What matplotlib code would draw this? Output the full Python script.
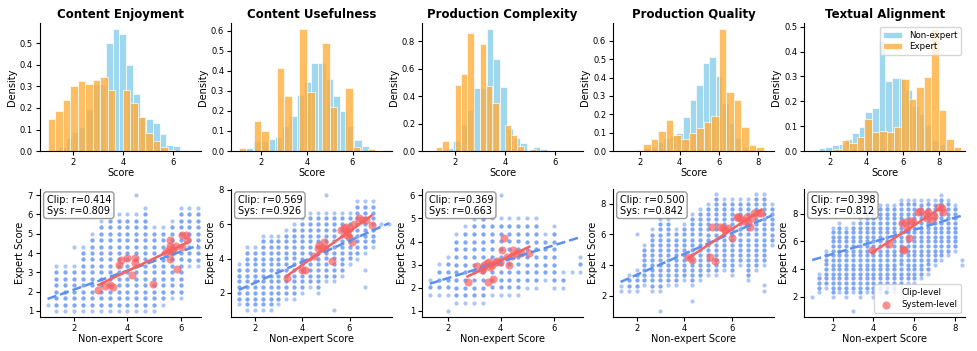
import numpy as np
import matplotlib.pyplot as plt

titles = ['Content Enjoyment', 'Content Usefulness', 'Production Complexity',
          'Production Quality', 'Textual Alignment']

# ---- histogram densities (bins span the given range) ----
ce_nonexp_range = (1.18, 6.55)
ce_nonexp_dens = [0.005, 0.02, 0.06, 0.09, 0.11, 0.195, 0.31, 0.31, 0.50, 0.565,
                  0.545, 0.40, 0.265, 0.16, 0.15, 0.13, 0.08, 0.03, 0.025, 0.005]
ce_exp_range = (1.0, 7.0)
ce_exp_dens = [0.151, 0.186, 0.237, 0.302, 0.324, 0.313, 0.329, 0.343, 0.283, 0.0,
               0.283, 0.225, 0.16, 0.085, 0.045, 0.02, 0.005, 0.0, 0.0, 0.0]

cu_nonexp_range = (1.33, 7.67)
cu_nonexp_dens = [0.013, 0.05, 0.05, 0.062, 0.07, 0.125, 0.174, 0.278, 0.345, 0.438,
                  0.438, 0.36, 0.273, 0.202, 0.126, 0.055, 0.025, 0.005, 0.0, 0.003]
cu_exp_range = (1.0, 7.0)
cu_exp_dens = [0.017, 0.0, 0.152, 0.10, 0.0, 0.413, 0.273, 0.0, 0.607, 0.292,
               0.0, 0.54, 0.22, 0.0, 0.314, 0.022, 0.0, 0.008]

pc_nonexp_range = (1.67, 7.0)
pc_nonexp_dens = [0.025, 0.07, 0.2, 0.3, 0.46, 0.46, 0.889, 0.674, 0.464, 0.16,
                  0.094, 0.062, 0.01, 0.032, 0.012, 0.0, 0.0, 0.0, 0.0, 0.0]
pc_exp_range = (1.0, 6.0)
pc_exp_dens = [0.0, 0.032, 0.07, 0.0, 0.48, 0.563, 0.864, 0.0, 0.778, 0.472,
               0.353, 0.0, 0.188, 0.114, 0.04, 0.0, 0.015, 0.0, 0.0, 0.0]

pq_nonexp_range = (1.5, 8.17)
pq_nonexp_dens = [0.003, 0.005, 0.015, 0.02, 0.05, 0.07, 0.08, 0.098, 0.186, 0.28,
                  0.36, 0.48, 0.51, 0.41, 0.26, 0.155, 0.07, 0.02, 0.005, 0.0]
pq_exp_range = (1.0, 8.67)
pq_exp_dens = [0.0, 0.0, 0.005, 0.039, 0.068, 0.109, 0.168, 0.085, 0.064, 0.098,
               0.123, 0.158, 0.193, 0.663, 0.324, 0.276, 0.131, 0.033, 0.022, 0.0]

ta_nonexp_range = (1.0, 8.33)
ta_nonexp_dens = [0.005, 0.013, 0.018, 0.023, 0.028, 0.05, 0.074, 0.095, 0.158, 0.172,
                  0.442, 0.28, 0.293, 0.293, 0.245, 0.18, 0.15, 0.105, 0.045, 0.03]
ta_exp_range = (1.0, 9.2)
ta_exp_dens = [0.0, 0.0, 0.0, 0.007, 0.043, 0.034, 0.057, 0.13, 0.077, 0.08,
               0.076, 0.095, 0.29, 0.21, 0.257, 0.299, 0.49, 0.166, 0.047, 0.016]

# ---- clip-level scores: per non-expert column, lowest / highest expert score ----
ce_clip_x = [1.33, 1.67, 2.0, 2.33, 2.67, 3.0, 3.33, 3.67, 4.0, 4.33, 4.67, 5.0, 5.33, 5.67, 6.0, 6.33, 6.67]
ce_clip_lo = [1.0, 1.0, 1.0, 1.0, 1.0, 1.0, 1.0, 1.0, 1.0, 1.0, 1.0, 1.0, 1.33, 1.67, 1.67, 3.33, 3.33]
ce_clip_hi = [3.33, 3.33, 3.33, 4.33, 5.0, 5.67, 6.0, 6.0, 6.0, 6.0, 6.33, 5.33, 5.33, 5.67, 6.33, 6.33, 6.33]
ce_clip_extra = [(1.0, 1.33), (2.0, 4.33), (4.33, 7.0)]

cu_clip_x = [1.33, 1.67, 2.0, 2.33, 2.67, 3.0, 3.33, 3.67, 4.0, 4.33, 4.67, 5.0, 5.33, 5.67, 6.0, 6.33, 6.67, 7.0]
cu_clip_lo = [1.33, 1.0, 1.0, 1.0, 1.0, 1.33, 1.67, 1.67, 2.0, 2.33, 2.0, 2.67, 2.67, 3.0, 3.67, 4.0, 4.33, 4.67]
cu_clip_hi = [3.67, 4.67, 4.67, 5.33, 5.33, 5.33, 5.67, 6.0, 6.33, 6.67, 6.67, 6.67, 6.67, 6.67, 6.67, 7.33, 7.33, 7.33]
cu_clip_extra = [(5.0, 7.67), (5.33, 1.0), (6.67, 2.33), (6.67, 3.33), (7.33, 6.0), (7.67, 6.0)]

pc_clip_x = [1.33, 1.67, 2.0, 2.33, 2.67, 3.0, 3.33, 3.67, 4.0, 4.33, 4.67, 5.0, 5.33, 5.67, 6.0, 6.33, 6.67, 7.0]
pc_clip_lo = [1.67, 1.67, 1.67, 1.33, 1.33, 1.33, 1.33, 1.67, 1.67, 1.67, 1.67, 2.0, 2.0, 2.33, 2.0, 2.0, 2.67, 2.67]
pc_clip_hi = [2.33, 3.0, 3.33, 4.33, 4.67, 5.0, 5.33, 5.0, 5.0, 5.0, 5.0, 5.0, 5.0, 4.33, 4.67, 2.67, 2.67, 3.33]
pc_clip_extra = [(2.0, 1.0), (4.0, 6.0)]

pq_clip_x = [1.33, 1.67, 2.0, 2.33, 2.67, 3.0, 3.33, 3.67, 4.0, 4.33, 4.67, 5.0, 5.33, 5.67, 6.0, 6.33, 6.67, 7.0, 7.33, 7.67]
pq_clip_lo = [2.33, 2.33, 2.33, 2.67, 2.33, 2.33, 2.67, 2.67, 3.0, 2.67, 3.0, 3.33, 3.33, 3.67, 3.33, 4.0, 3.0, 3.67, 4.0, 5.33]
pq_clip_hi = [2.67, 3.33, 3.67, 5.33, 6.33, 7.0, 7.0, 6.33, 6.67, 7.33, 7.67, 8.0, 8.67, 8.33, 8.33, 8.33, 8.33, 8.67, 8.67, 8.0]
pq_clip_extra = [(2.0, 6.0), (3.0, 1.0), (4.33, 1.67), (7.33, 2.33), (7.33, 2.67)]

ta_clip_x = [1.33, 1.67, 2.0, 2.33, 2.67, 3.0, 3.33, 3.67, 4.0, 4.33, 4.67, 5.0, 5.33, 5.67, 6.0, 6.33, 6.67, 7.0, 7.33, 7.67, 8.0]
ta_clip_lo = [2.33, 2.67, 2.0, 2.33, 2.0, 2.33, 2.0, 2.33, 2.0, 2.33, 2.33, 2.33, 2.67, 3.0, 3.0, 3.33, 3.67, 4.33, 4.67, 5.0, 5.33]
ta_clip_hi = [3.67, 5.33, 7.0, 7.33, 7.0, 7.33, 7.67, 8.33, 8.33, 8.67, 8.67, 8.67, 9.0, 9.0, 9.0, 9.0, 9.0, 9.0, 9.33, 9.0, 8.67]
ta_clip_extra = [(1.0, 2.0), (3.0, 1.0), (8.33, 4.33), (8.33, 4.67)]

# clip-level regression lines (slope, intercept) and correlations
clip_fit = [(0.49, 1.13), (0.612, 1.36), (0.357, 1.69), (0.684, 1.99), (0.437, 4.22)]
clip_r = [0.414, 0.569, 0.369, 0.500, 0.398]
sys_r = [0.809, 0.926, 0.663, 0.842, 0.812]

# ---- system-level points ----
ce_sys_x = [2.91, 3.17, 3.35, 3.45, 3.67, 3.77, 4.0, 4.17, 4.27, 4.29, 4.98, 5.46, 5.55, 5.59,
            5.61, 5.61, 5.67, 5.73, 5.83, 5.88, 6.05, 6.05, 6.21, 6.24]
ce_sys_y = [2.11, 2.30, 2.33, 2.25, 3.37, 3.63, 3.72, 2.85, 3.46, 3.72, 2.42, 4.06, 4.15, 4.37,
            4.67, 3.68, 4.06, 4.15, 4.37, 3.15, 4.93, 4.32, 4.93, 4.67]

cu_sys_x = [3.37, 4.0, 4.14, 4.49, 4.68, 4.73, 4.85, 4.92, 4.96, 5.27, 5.66, 5.76, 5.86, 5.9,
            5.9, 5.97, 6.0, 6.11, 6.18, 6.39, 6.54, 6.68, 6.93]
cu_sys_y = [2.87, 3.36, 3.36, 4.14, 4.62, 4.78, 4.62, 4.97, 4.54, 3.84, 5.65, 5.75, 5.84, 5.55,
            5.36, 5.26, 5.75, 4.97, 5.98, 6.33, 6.23, 6.23, 5.94]

pc_sys_x = [2.75, 3.12, 3.28, 3.35, 3.38, 3.47, 3.53, 3.56, 3.6, 3.66, 3.72, 3.82, 3.87, 3.97,
            4.04, 4.13, 4.23, 4.33, 4.42, 4.48, 4.6, 4.75, 5.08]
pc_sys_y = [2.25, 2.93, 2.75, 2.83, 3.0, 3.07, 2.25, 3.12, 2.9, 3.0, 2.35, 3.09, 3.16, 3.12,
            3.62, 4.16, 3.33, 3.0, 3.38, 3.62, 3.48, 3.52, 3.48]

pq_sys_x = [4.17, 4.34, 5.08, 5.29, 5.17, 5.5, 5.64, 5.73, 5.82, 5.99, 6.2, 6.27, 6.34, 6.52,
            6.62, 6.69, 6.76, 6.83, 6.94, 7.1, 7.24]
pq_sys_y = [4.54, 4.36, 4.52, 4.25, 6.5, 6.5, 6.42, 6.28, 6.42, 5.8, 7.12, 7.17, 7.08, 6.9,
            7.16, 6.72, 6.5, 7.08, 7.39, 7.39, 7.39]

ta_sys_x = [3.93, 4.75, 5.4, 5.45, 5.51, 5.56, 5.64, 5.73, 5.84, 5.94, 6.17, 6.3, 6.59, 6.62,
            6.66, 6.87, 6.98, 7.2, 7.36, 7.41]
ta_sys_y = [5.37, 5.78, 7.3, 5.45, 5.37, 7.42, 6.94, 6.27, 7.47, 7.37, 8.14, 8.19, 7.95, 7.71,
            8.1, 7.54, 7.86, 8.5, 8.39, 8.1]

hists = [
    (ce_nonexp_range, ce_nonexp_dens, ce_exp_range, ce_exp_dens),
    (cu_nonexp_range, cu_nonexp_dens, cu_exp_range, cu_exp_dens),
    (pc_nonexp_range, pc_nonexp_dens, pc_exp_range, pc_exp_dens),
    (pq_nonexp_range, pq_nonexp_dens, pq_exp_range, pq_exp_dens),
    (ta_nonexp_range, ta_nonexp_dens, ta_exp_range, ta_exp_dens),
]
clips = [
    (ce_clip_x, ce_clip_lo, ce_clip_hi, ce_clip_extra),
    (cu_clip_x, cu_clip_lo, cu_clip_hi, cu_clip_extra),
    (pc_clip_x, pc_clip_lo, pc_clip_hi, pc_clip_extra),
    (pq_clip_x, pq_clip_lo, pq_clip_hi, pq_clip_extra),
    (ta_clip_x, ta_clip_lo, ta_clip_hi, ta_clip_extra),
]
systems = [(ce_sys_x, ce_sys_y), (cu_sys_x, cu_sys_y), (pc_sys_x, pc_sys_y),
           (pq_sys_x, pq_sys_y), (ta_sys_x, ta_sys_y)]

top_xlim = [(0.69, 7.13), (0.67, 7.74), (0.69, 7.13), (0.61, 8.82), (0.57, 9.43)]
bot_xlim = [(0.72, 6.77), (1.0, 7.8), (1.04, 7.11), (1.02, 7.78), (0.61, 8.5)]
bot_ylim = [(0.69, 7.31), (0.6, 8.04), (0.72, 6.28), (0.61, 8.97), (0.55, 9.78)]

blue = '#5b8ff0'
red = '#f96060'

fig, axes = plt.subplots(2, 5, figsize=(9.77, 3.51), dpi=100)
plt.subplots_adjust(left=0.041, right=0.988, bottom=0.097, top=0.934, wspace=0.186, hspace=0.297)


def draw_hist(ax, rng, dens, color, label):
    edges = np.linspace(rng[0], rng[1], len(dens) + 1)
    ax.bar(edges[:-1], dens, width=np.diff(edges), align='edge', color=color,
           alpha=0.8, edgecolor='white', linewidth=0.6, label=label)


for i in range(5):
    ax = axes[0, i]
    ne_rng, ne_d, ex_rng, ex_d = hists[i]
    draw_hist(ax, ne_rng, ne_d, 'skyblue', 'Non-expert')
    draw_hist(ax, ex_rng, ex_d, '#ffae3b', 'Expert')
    ax.set_xlim(*top_xlim[i])
    ax.set_title(titles[i], fontsize=8.5, fontweight='bold', pad=4)
    ax.set_xlabel('Score', fontsize=7, labelpad=1)
    ax.set_ylabel('Density', fontsize=7, labelpad=2)
    if i == 4:
        ax.legend(loc='upper right', fontsize=6.2, handlelength=2.2, borderpad=0.4,
                  labelspacing=0.3, framealpha=0.8)

    ax = axes[1, i]
    cx, clo, chi, extra = clips[i]
    px, py, core_x, core_y = [], [], [], []
    for x, lo, hi in zip(cx, clo, chi):
        ys = np.arange(lo, hi + 0.05, 1 / 3)
        px += [x] * len(ys)
        py += list(ys)
        core_x += [x] * max(len(ys) - 2, 0)
        core_y += list(ys[1:-1])
    for x, y in extra:
        px.append(x)
        py.append(y)
    ax.scatter(px, py, s=9, color=blue, alpha=0.5, linewidths=0, label='Clip-level')
    ax.scatter(core_x, core_y, s=9, color=blue, alpha=0.55, linewidths=0)

    sx, sy = systems[i]
    ax.scatter(sx, sy, s=34, color=red, alpha=0.7, linewidths=0, label='System-level', zorder=3)

    k, b = clip_fit[i]
    xl = np.array([min(min(cx), min(e[0] for e in extra)), max(max(cx), max(e[0] for e in extra))])
    ax.plot(xl, k * xl + b, color=blue, ls='--', lw=1.8, zorder=4)

    k2, b2 = np.polyfit(sx, sy, 1)
    xs = np.array([min(sx), max(sx)])
    ax.plot(xs, k2 * xs + b2, color=red, lw=1.8, zorder=4)

    ax.set_xlim(*bot_xlim[i])
    ax.set_ylim(*bot_ylim[i])
    ax.set_xlabel('Non-expert Score', fontsize=7, labelpad=1)
    ax.set_ylabel('Expert Score', fontsize=7, labelpad=2)
    ax.text(0.04, 0.955, 'Clip: r=%.3f\nSys: r=%.3f' % (clip_r[i], sys_r[i]),
            transform=ax.transAxes, fontsize=7, va='top', ha='left', linespacing=1.1,
            bbox=dict(boxstyle='round,pad=0.3', facecolor='white', edgecolor='gray', alpha=0.8))
    if i == 4:
        ax.legend(loc='lower right', fontsize=6.2, markerscale=1.0, borderpad=0.4,
                  labelspacing=0.4, framealpha=0.8)

for ax in axes.flat:
    ax.spines['top'].set_visible(False)
    ax.spines['right'].set_visible(False)
    ax.tick_params(labelsize=6, length=3, width=0.8, pad=2)

plt.savefig('out.png', dpi=100)
